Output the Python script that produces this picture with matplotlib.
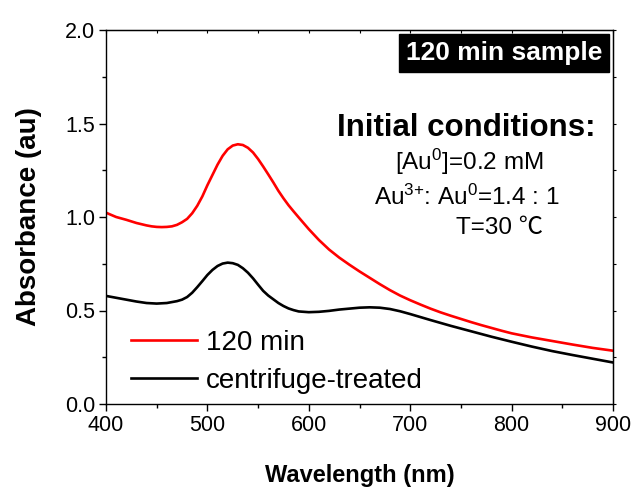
import matplotlib
matplotlib.use('Agg')
import matplotlib.pyplot as plt
from matplotlib.ticker import MultipleLocator

plt.rcParams['font.family'] = ['Liberation Sans', 'DejaVu Sans']
plt.rcParams['mathtext.fontset'] = 'custom'
plt.rcParams['mathtext.rm'] = 'Liberation Sans'
plt.rcParams['mathtext.it'] = 'Liberation Sans:italic'
plt.rcParams['mathtext.bf'] = 'Liberation Sans:bold'

# UV-vis spectra
wl_red = [400, 410, 420, 430, 440, 445, 450, 455, 460, 465, 470, 475, 480, 485,
          490, 495, 500, 505, 510, 515, 520, 525, 530, 535, 540, 545, 550, 555,
          560, 565, 570, 575, 580, 585, 590, 600, 610, 620, 630, 640, 650, 660,
          670, 680, 690, 700, 710, 720, 730, 740, 750, 760, 770, 780, 790, 800,
          820, 840, 860, 880, 900]
abs_red = [1.023, 1.00, 0.985, 0.968, 0.955, 0.95, 0.947, 0.946, 0.947, 0.95,
           0.958, 0.972, 0.99, 1.02, 1.06, 1.11, 1.17, 1.225, 1.28, 1.327, 1.362,
           1.382, 1.389, 1.385, 1.37, 1.345, 1.31, 1.27, 1.228, 1.185, 1.14, 1.10,
           1.063, 1.03, 0.998, 0.935, 0.877, 0.826, 0.783, 0.745, 0.709, 0.675,
           0.641, 0.609, 0.58, 0.555, 0.532, 0.51, 0.49, 0.472, 0.455, 0.438,
           0.422, 0.407, 0.392, 0.378, 0.356, 0.337, 0.318, 0.30, 0.285]

wl_blk = [400, 410, 420, 430, 440, 450, 460, 465, 470, 475, 480, 485, 490, 495,
          500, 505, 510, 515, 520, 525, 530, 535, 540, 545, 550, 555, 560, 565,
          570, 575, 580, 585, 590, 600, 610, 620, 630, 640, 650, 660, 670, 680,
          690, 700, 720, 740, 760, 780, 800, 820, 840, 860, 880, 900]
abs_blk = [0.578, 0.568, 0.558, 0.548, 0.54, 0.537, 0.54, 0.545, 0.55, 0.558,
           0.572, 0.595, 0.625, 0.657, 0.69, 0.717, 0.738, 0.751, 0.756, 0.753,
           0.744, 0.726, 0.702, 0.672, 0.638, 0.605, 0.58, 0.56, 0.54, 0.524,
           0.511, 0.502, 0.495, 0.491, 0.493, 0.498, 0.505, 0.51, 0.515, 0.517,
           0.515, 0.508, 0.496, 0.481, 0.449, 0.418, 0.389, 0.36, 0.333, 0.307,
           0.283, 0.262, 0.242, 0.222]

labels = ['120 min', 'centrifuge-treated']

fig = plt.figure(figsize=(6.4, 4.91), dpi=100)
ax = fig.add_axes([106/640, 1-404/491, 507/640, 374/491])

ax.plot(wl_red, abs_red, color='red', lw=1.9, label=labels[0])
ax.plot(wl_blk, abs_blk, color='black', lw=1.9, label=labels[1])

ax.set_xlim(400, 900)
ax.set_ylim(0, 2.0)
ax.xaxis.set_major_locator(MultipleLocator(100))
ax.xaxis.set_minor_locator(MultipleLocator(50))
ax.yaxis.set_major_locator(MultipleLocator(0.5))
ax.yaxis.set_minor_locator(MultipleLocator(0.25))
ax.yaxis.set_major_formatter(plt.FormatStrFormatter('%.1f'))
ax.tick_params(which='major', direction='out', length=5, width=1, labelsize=15.5,
               pad=3)
ax.tick_params(which='minor', direction='out', length=3, width=1)
for s in ax.spines.values():
    s.set_linewidth(1.0)

# tiny ticks on top and right
top = ax.secondary_xaxis('top')
top.xaxis.set_major_locator(MultipleLocator(50))
top.tick_params(direction='in', length=2, width=0.8, labeltop=False)
right = ax.secondary_yaxis('right')
right.yaxis.set_major_locator(MultipleLocator(0.25))
right.tick_params(direction='out', length=2, width=0.8, labelright=False)

ax.set_xlabel('Wavelength (nm)', fontsize=17, fontweight='bold', labelpad=20)
ax.set_ylabel('Absorbance (au)', fontsize=20, fontweight='bold', labelpad=16)

leg = ax.legend(loc='lower left', bbox_to_anchor=(0.01, -0.024), frameon=False,
                fontsize=20, handlelength=2.4, handletextpad=0.3,
                labelspacing=0.43, borderpad=0.2)

# annotations
def px(x, y):
    return x/640, 1 - y/491

fig.text(*px(504, 53), '120 min sample', color='white', fontsize=19,
         fontweight='bold', ha='center', va='center',
         bbox=dict(boxstyle='square,pad=0.25', fc='black', ec='black'))
fig.text(*px(466, 128), 'Initial conditions:', fontsize=22.5, fontweight='bold',
         ha='center', va='center')
fig.text(*px(469, 162), r'[Au$^{0}$]=0.2 mM', fontsize=17.5, ha='center',
         va='center')
fig.text(*px(467, 197), r'Au$^{3{+}}$: Au$^{0}$=1.4 : 1', fontsize=17.5,
         ha='center', va='center')
fig.text(*px(499, 228), 'T=30 ℃', fontsize=17.5, ha='center', va='center',
         family=['Liberation Sans', 'Noto Sans CJK SC', 'DejaVu Sans'])

fig.savefig('out.png', dpi=100)
